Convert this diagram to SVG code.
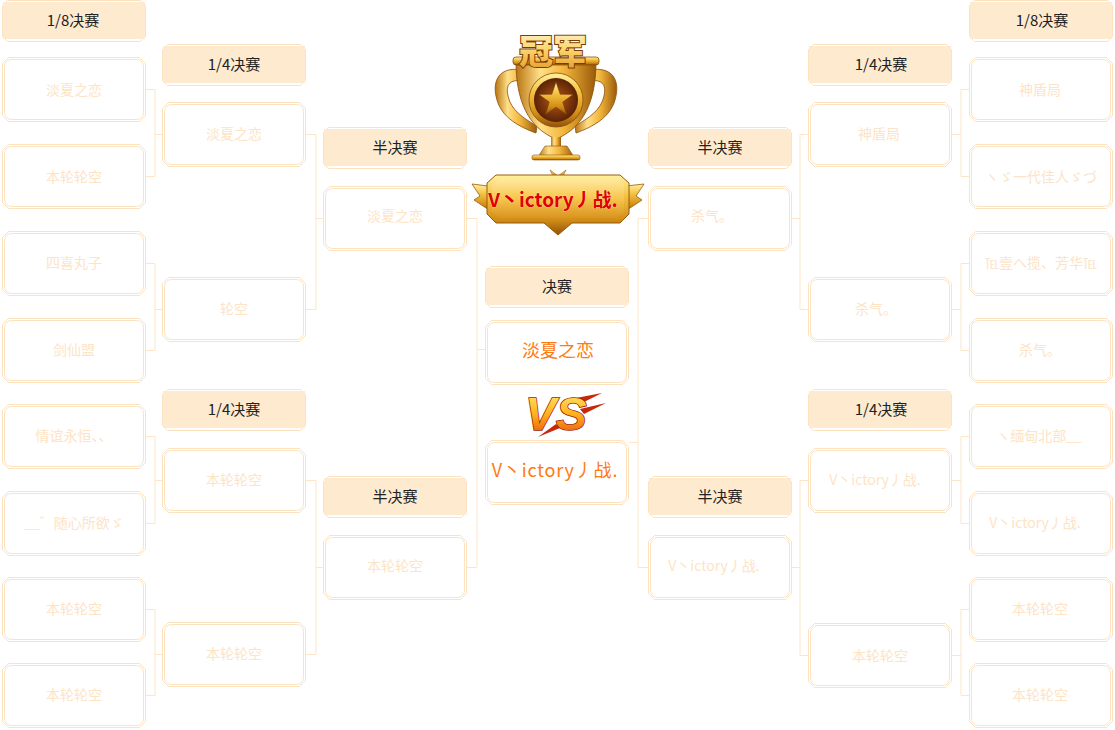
<svg xmlns="http://www.w3.org/2000/svg" width="1115" height="730" viewBox="0 0 1115 730">
<style>
.h{font-family:"Noto Sans CJK SC","Noto Sans",sans-serif;font-size:15px;fill:#222;text-anchor:middle}
.t{font-family:"Noto Sans CJK SC","Noto Sans",sans-serif;font-size:14px;fill:#fde4c6;text-anchor:middle}
.f{font-family:"Noto Sans CJK SC","Noto Sans",sans-serif;font-size:18px;fill:#ff7a10;text-anchor:middle}
.fr{fill:none;stroke:#fde2bf;stroke-width:1}
.cn{fill:none;stroke:#fde5c8;stroke-width:1}
</style>
<defs>
<g id="bx">
<path class="fr" d="M6.5,0.5 H137.5 L143.5,6.5 V58.5 L137.5,64.5 H6.5 L0.5,58.5 V6.5 Z"/>
<rect class="fr" x="2.5" y="2.5" width="139" height="60" rx="7"/>
</g>
<g id="hd">
<path class="fr" d="M5.5,-1.5 H138.5 L143.5,3.5 V34.5 L138.5,39.5 H5.5 L0.5,34.5 V3.5 Z"/>
<rect x="1" y="0" width="142" height="37" fill="#feeacf"/>
</g>
<linearGradient id="gold" x1="0" y1="0" x2="0" y2="1">
<stop offset="0" stop-color="#fff1a0"/>
<stop offset="0.35" stop-color="#f4c243"/>
<stop offset="0.75" stop-color="#d28d17"/>
<stop offset="1" stop-color="#8f520a"/>
</linearGradient>
<linearGradient id="goldh" x1="0" y1="0" x2="1" y2="0">
<stop offset="0" stop-color="#b8740f"/>
<stop offset="0.3" stop-color="#ffe08a"/>
<stop offset="0.6" stop-color="#f2b53a"/>
<stop offset="1" stop-color="#9a5a0b"/>
</linearGradient>
<linearGradient id="plate" x1="0" y1="0" x2="0" y2="1">
<stop offset="0" stop-color="#ffe9a0"/>
<stop offset="0.5" stop-color="#f7c64d"/>
<stop offset="1" stop-color="#d99421"/>
</linearGradient>
<linearGradient id="txtg" x1="0" y1="0" x2="0" y2="1">
<stop offset="0" stop-color="#fffbe6"/>
<stop offset="0.5" stop-color="#fbd66c"/>
<stop offset="1" stop-color="#e09320"/>
</linearGradient>
<linearGradient id="vsg" x1="0" y1="0" x2="0" y2="1">
<stop offset="0" stop-color="#fff07a"/>
<stop offset="0.5" stop-color="#ffb21c"/>
<stop offset="1" stop-color="#e2470a"/>
</linearGradient>
<radialGradient id="emb" cx="0.5" cy="0.5" r="0.5">
<stop offset="0" stop-color="#b85a16"/>
<stop offset="1" stop-color="#5a2206"/>
</radialGradient>
</defs>

<g id="connectors">
<path class="cn" d="M146,89.5 H155 V176.5 H146 M155,134.5 H162"/>
<path class="cn" d="M146,263.5 H155 V350.5 H146 M155,309.5 H162"/>
<path class="cn" d="M146,436.5 H155 V523.5 H146 M155,480.5 H162"/>
<path class="cn" d="M146,609.5 H155 V695.5 H146 M155,654.5 H162"/>
<path class="cn" d="M306,134.5 H316 V309.5 H306 M316,218.5 H323"/>
<path class="cn" d="M306,480.5 H316 V654.5 H306 M316,567.5 H323"/>
<path class="cn" d="M467,218.5 H477 V567.5 H467 M477,349.5 H485"/>
<path class="cn" d="M648,218.5 H638 V567.5 H648 M638,442.5 H629"/>
<path class="cn" d="M808,134.5 H800 V309.5 H808 M800,218.5 H792"/>
<path class="cn" d="M808,480.5 H800 V655.5 H808 M800,567.5 H792"/>
<path class="cn" d="M969,89.5 H961 V176.5 H969 M961,134.5 H952"/>
<path class="cn" d="M969,263.5 H961 V350.5 H969 M961,309.5 H952"/>
<path class="cn" d="M969,436.5 H961 V523.5 H969 M961,480.5 H952"/>
<path class="cn" d="M969,609.5 H961 V695.5 H969 M961,655.5 H952"/>
</g>

<!-- Left 1/8 -->
<g id="h-l16"><use href="#hd" x="2" y="2"/><text class="h" x="73" y="26">1/8决赛</text></g>
<g id="l16-1"><use href="#bx" x="2" y="57"/><text class="t" x="74" y="95">淡夏之恋</text></g>
<g id="l16-2"><use href="#bx" x="2" y="144"/><text class="t" x="74" y="182">本轮轮空</text></g>
<g id="l16-3"><use href="#bx" x="2" y="231"/><text class="t" x="74" y="268">四喜丸子</text></g>
<g id="l16-4"><use href="#bx" x="2" y="318"/><text class="t" x="74" y="355">剑仙盟</text></g>
<g id="l16-5"><use href="#bx" x="2" y="404"/><text class="t" x="74" y="441">情谊永恒、、</text></g>
<g id="l16-6"><use href="#bx" x="2" y="491"/><text class="t" x="74" y="528">__゛随心所欲ゞ</text></g>
<g id="l16-7"><use href="#bx" x="2" y="577"/><text class="t" x="74" y="614">本轮轮空</text></g>
<g id="l16-8"><use href="#bx" x="2" y="663"/><text class="t" x="74" y="700">本轮轮空</text></g>

<!-- Left 1/4 -->
<g id="h-l8a"><use href="#hd" x="162" y="46"/><text class="h" x="234" y="70">1/4决赛</text></g>
<g id="l8-1"><use href="#bx" x="162" y="102"/><text class="t" x="234" y="139">淡夏之恋</text></g>
<g id="l8-2"><use href="#bx" x="162" y="277"/><text class="t" x="234" y="314">轮空</text></g>
<g id="h-l8b"><use href="#hd" x="162" y="391"/><text class="h" x="234" y="415">1/4决赛</text></g>
<g id="l8-3"><use href="#bx" x="162" y="448"/><text class="t" x="234" y="485">本轮轮空</text></g>
<g id="l8-4"><use href="#bx" x="162" y="622"/><text class="t" x="234" y="659">本轮轮空</text></g>

<!-- Left semi -->
<g id="h-l4a"><use href="#hd" x="323" y="129"/><text class="h" x="395" y="153">半决赛</text></g>
<g id="l4-1"><use href="#bx" x="323" y="186"/><text class="t" x="395" y="221">淡夏之恋</text></g>
<g id="h-l4b"><use href="#hd" x="323" y="478"/><text class="h" x="395" y="502">半决赛</text></g>
<g id="l4-2"><use href="#bx" x="323" y="535"/><text class="t" x="395" y="571">本轮轮空</text></g>

<!-- Final -->
<g id="h-final"><use href="#hd" x="485" y="268"/><text class="h" x="557" y="292">决赛</text></g>
<g id="final-1"><use href="#bx" x="485" y="320"/><text class="f" x="558" y="357">淡夏之恋</text></g>
<g id="final-2"><use href="#bx" x="485" y="440"/><text class="f" x="555" y="477" letter-spacing="0.8">V丶ictory丿战.</text></g>

<!-- VS -->
<g id="vs">
<path d="M576,398 L602,393 L580,404 Z M580,409 L606,403 L584,414 Z M560,428 L538,437 L556,424 Z" fill="#c8280a"/>
<text x="556" y="430" font-family="Liberation Sans,Arial,sans-serif" font-size="46" font-weight="bold" font-style="italic" text-anchor="middle" fill="url(#vsg)" stroke="#9a1a04" stroke-width="1.5" paint-order="stroke">VS</text>
</g>

<!-- Right semi -->
<g id="h-r4a"><use href="#hd" x="648" y="129"/><text class="h" x="720" y="153">半决赛</text></g>
<g id="r4-1"><use href="#bx" x="648" y="186"/><text class="t" x="712" y="221">杀气。</text></g>
<g id="h-r4b"><use href="#hd" x="648" y="478"/><text class="h" x="720" y="502">半决赛</text></g>
<g id="r4-2"><use href="#bx" x="648" y="535"/><text class="t" x="714" y="571">V丶ictory丿战.</text></g>

<!-- Right 1/4 -->
<g id="h-r8a"><use href="#hd" x="808" y="46"/><text class="h" x="881" y="70">1/4决赛</text></g>
<g id="r8-1"><use href="#bx" x="808" y="102"/><text class="t" x="879" y="139">神盾局</text></g>
<g id="r8-2"><use href="#bx" x="808" y="277"/><text class="t" x="876" y="314">杀气。</text></g>
<g id="h-r8b"><use href="#hd" x="808" y="391"/><text class="h" x="881" y="415">1/4决赛</text></g>
<g id="r8-3"><use href="#bx" x="808" y="448"/><text class="t" x="875" y="485">V丶ictory丿战.</text></g>
<g id="r8-4"><use href="#bx" x="808" y="623"/><text class="t" x="880" y="661">本轮轮空</text></g>

<!-- Right 1/8 -->
<g id="h-r16"><use href="#hd" x="969" y="2"/><text class="h" x="1042" y="26">1/8决赛</text></g>
<g id="r16-1"><use href="#bx" x="969" y="57"/><text class="t" x="1040" y="95">神盾局</text></g>
<g id="r16-2"><use href="#bx" x="969" y="144"/><text class="t" x="1041" y="182">ヽゞ一代佳人ゞづ</text></g>
<g id="r16-3"><use href="#bx" x="969" y="231"/><text class="t" x="1041" y="268">℡壹ヘ揽、芳华℡</text></g>
<g id="r16-4"><use href="#bx" x="969" y="318"/><text class="t" x="1040" y="355">杀气。</text></g>
<g id="r16-5"><use href="#bx" x="969" y="404"/><text class="t" x="1039" y="441">ヽ缅甸北部__</text></g>
<g id="r16-6"><use href="#bx" x="969" y="491"/><text class="t" x="1035" y="528">V丶ictory丿战.</text></g>
<g id="r16-7"><use href="#bx" x="969" y="577"/><text class="t" x="1040" y="614">本轮轮空</text></g>
<g id="r16-8"><use href="#bx" x="969" y="663"/><text class="t" x="1040" y="700">本轮轮空</text></g>

<!-- Champion trophy -->
<g id="trophy">
<path d="M522,70 C500,66 491,80 497,100 C502,118 520,127 536,133 L537,126 C523,118 511,110 508,96 C505,84 511,79 522,81 Z" fill="url(#goldh)" stroke="#8a4d08" stroke-width="0.8"/>
<path d="M590,70 C612,66 621,80 615,100 C610,118 592,127 576,133 L575,126 C589,118 601,110 604,96 C607,84 601,79 590,81 Z" fill="url(#goldh)" stroke="#8a4d08" stroke-width="0.8"/>
<path d="M516,62 H596 C596,100 584,128 556,139 C528,128 516,100 516,62 Z" fill="url(#goldh)" stroke="#8a4d08" stroke-width="0.8"/>
<rect x="513" y="57" width="86" height="8" rx="3" fill="url(#gold)" stroke="#8a4d08" stroke-width="0.8"/>
<circle cx="556" cy="100" r="27" fill="url(#gold)" stroke="#8a4d08" stroke-width="0.8"/>
<circle cx="556" cy="100" r="22" fill="url(#emb)"/>
<polygon points="556,82 560.2,94.2 573.1,94.4 562.8,102.1 566.6,114.6 556,107.2 545.4,114.6 549.2,102.1 538.9,94.4 551.8,94.2" fill="url(#gold)" stroke="#7a3c06" stroke-width="0.6"/>
<rect x="551" y="137" width="10" height="10" fill="url(#goldh)"/>
<path d="M538,157 L545,146 H567 L574,157 Z" fill="url(#goldh)" stroke="#8a4d08" stroke-width="0.6"/>
<rect x="532" y="155" width="48" height="5" rx="2" fill="url(#gold)" stroke="#8a4d08" stroke-width="0.6"/>
<text x="553" y="64" font-family="Noto Sans CJK SC,sans-serif" font-size="34" font-weight="900" text-anchor="middle" fill="url(#txtg)" stroke="#7a3b06" stroke-width="2" paint-order="stroke">冠军</text>
</g>

<!-- Champion banner -->
<g id="banner">
<path d="M488,186 L472,184 L480,196 L474,200 L486,208 L494,212 Z" fill="url(#gold)" stroke="#9a5a0b" stroke-width="0.8"/>
<path d="M626,186 L644,184 L636,196 L642,200 L630,208 L622,212 Z" fill="url(#gold)" stroke="#9a5a0b" stroke-width="0.8"/>
<path d="M550,170 L558,176 L566,170 L562,178 H554 Z" fill="url(#gold)" stroke="#9a5a0b" stroke-width="0.6"/>
<path d="M496,175 H620 L629,183 V214 L620,223 H572 L558,235 L544,223 H496 L487,214 V183 Z" fill="url(#gold)" stroke="#9a5a0b" stroke-width="1"/>
<path d="M499,179 H617 L624,185 V212 L617,218 H499 L492,212 V185 Z" fill="url(#plate)"/>
<text x="553" y="207" font-family="Noto Sans CJK SC,sans-serif" font-size="19" font-weight="bold" text-anchor="middle" fill="#e00000" stroke="#fff2b0" stroke-width="0.6" paint-order="stroke">V丶ictory丿战.</text>
</g>
</svg>
